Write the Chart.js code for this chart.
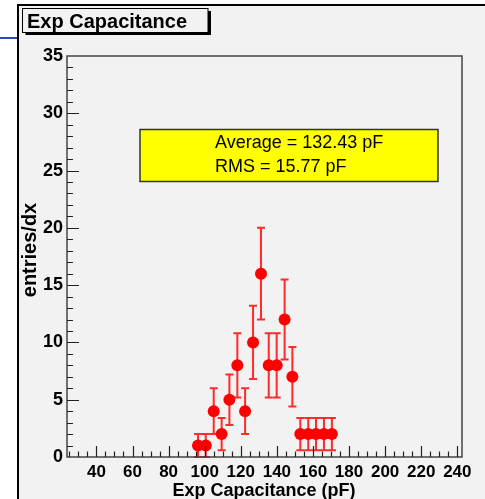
<!DOCTYPE html>
<html>
<head>
<meta charset="utf-8">
<title>Exp Capacitance</title>
<script src="https://cdn.jsdelivr.net/npm/chart.js@4.4.1/dist/chart.umd.min.js"></script>
<style>
  html, body { margin: 0; padding: 0; background: #ffffff; }
  canvas { display: block; }
</style>
</head>
<body>
<canvas id="capChart" width="485" height="499"></canvas>
<script>
// histogram bins (pF) and their contents
const binCenters = [96.3, 100.6, 105.0, 109.4, 113.7, 118.1, 122.4, 126.8, 131.2, 135.5, 139.9, 144.3, 148.6, 153.0, 157.4, 161.7, 166.1, 170.5];
const entries    = [1, 1, 4, 2, 5, 8, 4, 10, 16, 8, 8, 12, 7, 2, 2, 2, 2, 2];
const errors     = [1, 1, 2, 1.4, 2.2, 2.8, 2, 3.2, 4, 2.8, 2.8, 3.5, 2.6, 1.4, 1.4, 1.4, 1.4, 1.4];

const xTickLabels = [40, 60, 80, 100, 120, 140, 160, 180, 200, 220, 240];
const yTickLabels = [0, 5, 10, 15, 20, 25, 30, 35];
const xRange = [23.7, 242.6];
const yRange = [0, 35];

const statLines = ['Average = 132.43 pF', 'RMS = 15.77 pF'];
const titleText = 'Exp Capacitance';
const xTitle = 'Exp Capacitance (pF)';
const yTitle = 'entries/dx';

const FONT = '"Liberation Sans", Arial, sans-serif';
const RED = '#ff0000';

// pad / frame background behind everything
const padBackground = {
    id: 'padBackground',
    beforeDraw(chart) {
        const c = chart.ctx;
        c.save();
        c.fillStyle = '#ffffff';
        c.fillRect(0, 0, chart.width, chart.height);
        c.fillStyle = '#f2f2f2';
        c.fillRect(19, 6, chart.width - 19, chart.height - 6);
        c.fillStyle = '#000000';
        c.fillRect(17, 4, chart.width - 17, 2);
        c.fillRect(17, 4, 2, chart.height - 4);
        c.fillStyle = '#2a48c8';
        c.fillRect(0, 37, 17, 2);
        c.restore();
    }
};

// vertical error bars with caps
const errorBars = {
    id: 'errorBars',
    beforeDatasetsDraw(chart) {
        const c = chart.ctx;
        const xs = chart.scales.x, ys = chart.scales.y;
        c.save();
        c.strokeStyle = '#ff2a2a';
        c.lineWidth = 2;
        binCenters.forEach((x, i) => {
            const px = xs.getPixelForValue(x);
            const lo = ys.getPixelForValue(Math.max(0, entries[i] - errors[i]));
            const hi = ys.getPixelForValue(entries[i] + errors[i]);
            c.beginPath();
            c.moveTo(px, lo); c.lineTo(px, hi);
            c.moveTo(px - 4, lo); c.lineTo(px + 4, lo);
            c.moveTo(px - 4, hi); c.lineTo(px + 4, hi);
            c.stroke();
        });
        c.restore();
    }
};

// frame, inward ticks, axis titles, title box and stats box
const rootDecor = {
    id: 'rootDecor',
    afterDraw(chart) {
        const c = chart.ctx;
        const a = chart.chartArea;
        const xs = chart.scales.x, ys = chart.scales.y;
        c.save();

        c.strokeStyle = '#444444';
        c.lineWidth = 1.5;
        c.strokeRect(a.left, a.top, a.right - a.left, a.bottom - a.top);

        c.strokeStyle = '#222222';
        c.lineWidth = 1.2;
        c.beginPath();
        for (let v = 25; v <= xRange[1]; v += 5) {
            const px = Math.round(xs.getPixelForValue(v)) + 0.5;
            const len = v % 20 === 0 ? 11 : 5.5;
            c.moveTo(px, a.bottom); c.lineTo(px, a.bottom - len);
        }
        for (let v = 1; v < yRange[1]; v += 1) {
            const py = Math.round(ys.getPixelForValue(v)) + 0.5;
            const len = v % 5 === 0 ? 12 : 6;
            c.moveTo(a.left, py); c.lineTo(a.left + len, py);
        }
        c.stroke();

        c.fillStyle = '#000000';
        c.font = 'bold 18px ' + FONT;
        c.textAlign = 'center';
        c.textBaseline = 'middle';
        c.fillText(xTitle, 264, 491);

        c.save();
        c.translate(30, 250);
        c.rotate(-Math.PI / 2);
        c.font = 'bold 20px ' + FONT;
        c.fillText(yTitle, 0, 0);
        c.restore();

        // title box with drop shadow
        c.fillStyle = '#000000';
        c.fillRect(25.5, 11, 185.5, 24);
        c.fillStyle = '#f2f2f2';
        c.fillRect(22.5, 8.5, 185.5, 24);
        c.strokeStyle = '#000000';
        c.lineWidth = 1;
        c.strokeRect(22.5, 8.5, 185.5, 24);
        c.fillStyle = '#000000';
        c.font = 'bold 20px ' + FONT;
        c.textAlign = 'left';
        c.textBaseline = 'alphabetic';
        c.fillText(titleText, 27, 28);

        // statistics box
        c.fillStyle = '#ffff00';
        c.fillRect(140, 129.5, 298, 52);
        c.strokeStyle = '#333333';
        c.lineWidth = 1.5;
        c.strokeRect(140, 129.5, 298, 52);
        c.fillStyle = '#000000';
        c.font = '18px ' + FONT;
        c.textBaseline = 'middle';
        c.fillText(statLines[0], 215, 143);
        c.fillText(statLines[1], 215, 167);

        c.restore();
    }
};

new Chart(document.getElementById('capChart').getContext('2d'), {
    type: 'scatter',
    data: {
        datasets: [{
            data: binCenters.map((x, i) => ({ x: x, y: entries[i] })),
            backgroundColor: RED,
            borderColor: RED,
            borderWidth: 0,
            pointRadius: 6,
            pointHoverRadius: 6,
            pointStyle: 'circle',
            clip: false
        }]
    },
    options: {
        responsive: false,
        animation: false,
        events: [],
        layout: { padding: { top: 56, right: 23, left: 0, bottom: 0 } },
        plugins: { legend: { display: false }, tooltip: { enabled: false } },
        scales: {
            x: {
                type: 'linear',
                min: xRange[0],
                max: xRange[1],
                grid: { display: false, drawTicks: false },
                border: { display: false },
                afterBuildTicks: (s) => { s.ticks = xTickLabels.map(v => ({ value: v })); },
                afterFit: (s) => { s.height = 42; },
                ticks: {
                    autoSkip: false,
                    maxRotation: 0,
                    padding: 5,
                    color: '#000000',
                    font: { family: FONT, size: 17, weight: 'bold' }
                }
            },
            y: {
                type: 'linear',
                min: yRange[0],
                max: yRange[1],
                grid: { display: false, drawTicks: false },
                border: { display: false },
                afterBuildTicks: (s) => { s.ticks = yTickLabels.map(v => ({ value: v })); },
                afterFit: (s) => { s.width = 67; },
                ticks: {
                    autoSkip: false,
                    padding: 4,
                    color: '#000000',
                    font: { family: FONT, size: 18, weight: 'bold' }
                }
            }
        }
    },
    plugins: [padBackground, errorBars, rootDecor]
});
</script>
</body>
</html>
